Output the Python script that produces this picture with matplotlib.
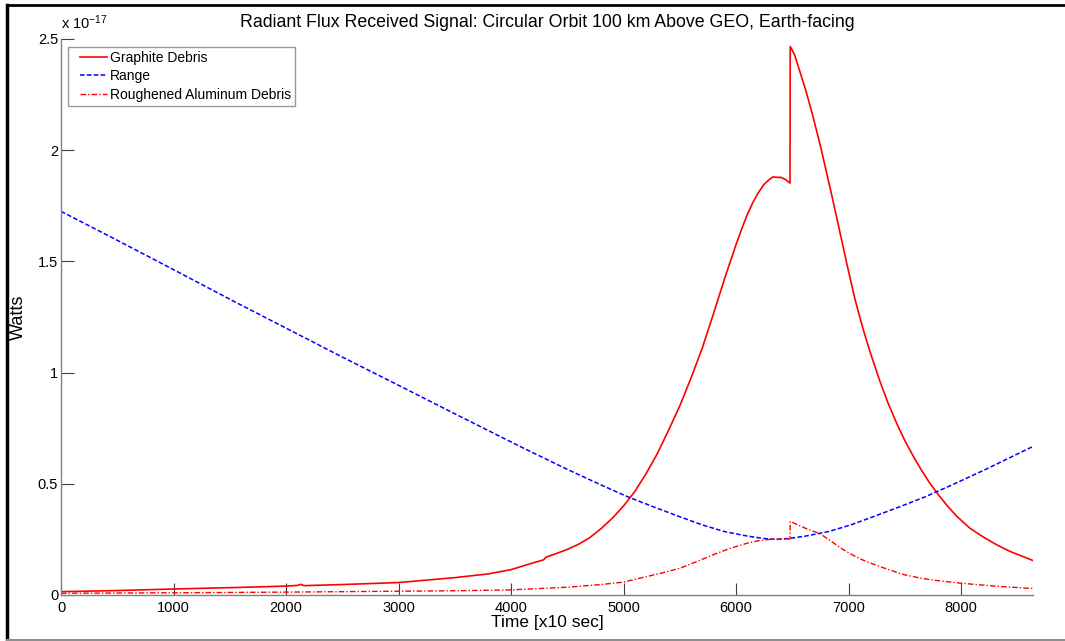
import matplotlib.pyplot as plt
from matplotlib.ticker import FuncFormatter
from matplotlib.lines import Line2D
from matplotlib.legend_handler import HandlerLine2D

plt.rcParams['font.family'] = ['Liberation Sans', 'DejaVu Sans']
plt.rcParams['mathtext.fontset'] = 'custom'
plt.rcParams['mathtext.rm'] = 'Liberation Sans'
plt.rcParams['mathtext.it'] = 'Liberation Sans'

# time in units of 10 s, power in units of 1e-17 W
t_graphite = [0, 500, 1000, 1500, 2000, 2100, 2130, 2160, 2500, 3000, 3500, 3800,
              4000, 4200, 4290, 4310, 4400, 4500, 4600, 4700, 4800, 4900, 5000,
              5100, 5200, 5300, 5400, 5500, 5600, 5700, 5800, 5900, 6000, 6050,
              6100, 6150, 6200, 6250, 6300, 6330, 6360, 6400, 6440, 6480, 6482,
              6520, 6570, 6620, 6680, 6750, 6850, 6920, 6985, 7060, 7133, 7200,
              7280, 7350, 7430, 7500, 7580, 7650, 7720, 7800, 7880, 7960, 8080,
              8200, 8320, 8440, 8540, 8640]
p_graphite = [0.015, 0.020, 0.027, 0.033, 0.040, 0.043, 0.048, 0.042, 0.047, 0.056,
              0.078, 0.095, 0.114, 0.145, 0.158, 0.170, 0.186, 0.205, 0.228, 0.258,
              0.298, 0.345, 0.400, 0.465, 0.545, 0.635, 0.740, 0.850, 0.975, 1.110,
              1.265, 1.425, 1.575, 1.645, 1.710, 1.765, 1.810, 1.847, 1.870, 1.880,
              1.878, 1.878, 1.868, 1.852, 2.466, 2.430, 2.350, 2.270, 2.160, 2.020,
              1.800, 1.640, 1.490, 1.325, 1.190, 1.080, 0.960, 0.865, 0.770, 0.695,
              0.620, 0.560, 0.505, 0.450, 0.400, 0.355, 0.300, 0.260, 0.225, 0.195,
              0.175, 0.155]

t_range = [0, 500, 1000, 1500, 2000, 2500, 3000, 3500, 4080, 4500, 4800, 5045,
           5300, 5500, 5700, 5900, 6100, 6250, 6360, 6470, 6620, 6820, 7020, 7220,
           7420, 7675, 7920, 8220, 8640]
p_range = [1.725, 1.595, 1.463, 1.330, 1.200, 1.070, 0.943, 0.815, 0.668, 0.565,
           0.495, 0.440, 0.390, 0.352, 0.315, 0.285, 0.265, 0.254, 0.250, 0.254,
           0.265, 0.285, 0.315, 0.352, 0.390, 0.440, 0.495, 0.565, 0.668]

t_alum = [0, 1000, 2000, 3000, 3500, 4000, 4500, 4800, 5000, 5182, 5350, 5500,
          5650, 5822, 5950, 6100, 6209, 6300, 6400, 6480, 6482, 6550, 6650, 6747,
          6850, 6950, 7043, 7150, 7300, 7489, 7650, 7800, 8022, 8300, 8640]
p_alum = [0.008, 0.010, 0.013, 0.017, 0.019, 0.023, 0.035, 0.047, 0.058, 0.080,
          0.100, 0.120, 0.150, 0.186, 0.210, 0.233, 0.245, 0.250, 0.252, 0.252,
          0.331, 0.315, 0.293, 0.276, 0.240, 0.205, 0.178, 0.152, 0.124, 0.092,
          0.075, 0.064, 0.052, 0.040, 0.029]

fig = plt.figure(figsize=(10.65, 6.41), dpi=100)
W, H = 1065, 641
ax = fig.add_axes([61 / W, 46 / H, 972 / W, 556 / H])

ax.plot(t_graphite, p_graphite, color='#ff0000', lw=1.2, label='Graphite Debris')
ax.plot(t_range, p_range, color='#0000ff', lw=1.1, linestyle=(0, (3, 1.5)), label='Range')
ax.plot(t_alum, p_alum, color='#ff0000', lw=1.0, linestyle=(0, (4, 1.5, 1, 1.5)),
        label='Roughened Aluminum Debris')

ax.set_xlim(0, 8640)
ax.set_ylim(0, 2.5)
ax.set_xticks(range(0, 8001, 1000))
ax.set_yticks([0, 0.5, 1, 1.5, 2, 2.5])
ax.yaxis.set_major_formatter(FuncFormatter(lambda v, p: '%g' % v))

for side in ['top', 'right']:
    ax.spines[side].set_visible(False)
for side in ['left', 'bottom']:
    ax.spines[side].set_color('#808080')
    ax.spines[side].set_linewidth(1.0)
ax.tick_params(direction='in', length=9, width=0.8, color='#404040', labelsize=10.5)
ax.tick_params(axis='x', pad=4)
ax.tick_params(axis='y', pad=2)

ax.set_title('Radiant Flux Received Signal: Circular Orbit 100 km Above GEO, Earth-facing',
             fontsize=12.8, pad=9)
ax.set_xlabel('Time [x10 sec]', fontsize=12.5, labelpad=0)
ax.set_ylabel('Watts', fontsize=13, labelpad=8)

ax.text(0, 1.012, r'x 10$^{-17}$', transform=ax.transAxes, fontsize=10.5,
        ha='left', va='bottom')

leg = ax.legend(loc='upper left', bbox_to_anchor=(7 / 972, 1 - 8 / 556),
                borderaxespad=0, fontsize=10, frameon=True, fancybox=False,
                handlelength=2.5, handletextpad=0.22, labelspacing=0.3,
                borderpad=0.3, handler_map={Line2D: HandlerLine2D(xpad=0.58)})
leg.get_frame().set_edgecolor('#808080')
leg.get_frame().set_linewidth(1.0)

# outer frame around the figure
fig.add_artist(Line2D([7 / W, 7 / W], [1 - 5 / H, 1 - 640 / H], color='black', lw=2.5))
fig.add_artist(Line2D([7 / W, 1], [1 - 5 / H, 1 - 5 / H], color='black', lw=2))
fig.add_artist(Line2D([7 / W, 1], [1 - 640 / H, 1 - 640 / H], color='#909090', lw=1.5))

fig.savefig('out.png', dpi=100)
